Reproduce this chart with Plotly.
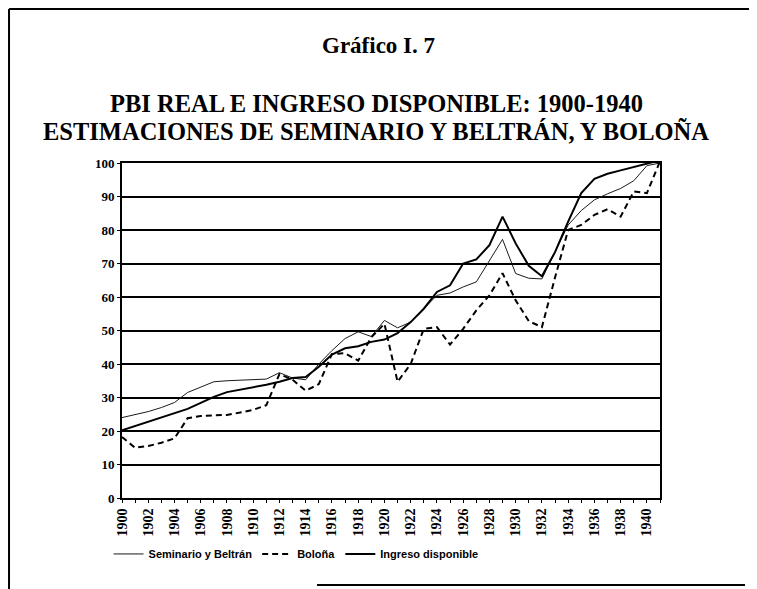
import plotly.graph_objects as go

years = list(range(1900, 1942))

seminario_beltran = [24.0, 24.9, 25.8, 27.0, 28.5, 31.5, 33.2, 34.7, 35.0, 35.2,
                     35.3, 35.5, 37.4, 35.8, 35.3, 40.0, 44.0, 47.6, 49.6, 48.2,
                     53.0, 50.8, 52.5, 56.5, 60.5, 61.2, 63.0, 64.5, 71.0, 77.2,
                     67.0, 65.6, 65.4, 73.5, 81.5, 85.8, 89.0, 90.8, 92.4, 94.7,
                     99.2, 100.0]

bolona = [18.2, 15.0, 15.5, 16.5, 17.8, 23.8, 24.5, 24.6, 24.8, 25.5,
          26.3, 27.7, 37.0, 35.3, 32.0, 34.0, 43.0, 43.2, 41.0, 48.0,
          52.0, 34.7, 40.0, 50.5, 51.0, 45.8, 50.5, 56.0, 60.5, 67.1,
          59.0, 52.8, 51.0, 65.8, 80.0, 81.5, 84.5, 86.2, 84.0, 91.5,
          91.0, 100.5]

ingreso_disponible = [20.2, 21.5, 22.7, 24.0, 25.2, 26.6, 28.4, 30.2, 31.6, 32.3,
                      33.1, 33.8, 34.7, 35.8, 36.1, 39.2, 42.8, 44.7, 45.3, 46.6,
                      47.3, 49.2, 52.5, 56.5, 61.5, 63.5, 70.0, 71.2, 75.5, 84.0,
                      76.0, 69.3, 66.2, 73.4, 82.5, 91.0, 95.3, 96.8, 97.8, 98.8,
                      100.0, 100.8]

tick_years = years
tick_labels = [str(y) if (y % 2 == 0 and y <= 1940) else "" for y in years]
y_ticks = list(range(0, 101, 10))

title_1 = "Gráfico I. 7"
title_2 = "PBI REAL E INGRESO DISPONIBLE: 1900-1940"
title_3 = "ESTIMACIONES DE SEMINARIO Y BELTRÁN, Y BOLOÑA"

SERIF = "Liberation Serif, Times New Roman, serif"
SANS = "Liberation Sans, Arial, sans-serif"

fig = go.Figure()
fig.add_trace(go.Scatter(x=years, y=seminario_beltran, mode="lines",
                         name="Seminario y Beltrán",
                         line=dict(color="#1a1a1a", width=1)))
fig.add_trace(go.Scatter(x=years, y=bolona, mode="lines", name="Boloña",
                         line=dict(color="black", width=2, dash="6px,4px")))
fig.add_trace(go.Scatter(x=years, y=ingreso_disponible, mode="lines",
                         name="Ingreso disponible",
                         line=dict(color="black", width=2)))

fig.update_layout(
    width=757, height=589,
    margin=dict(l=114, r=105, t=155, b=99),
    paper_bgcolor="white", plot_bgcolor="white",
    showlegend=True,
    legend=dict(orientation="h", x=-0.025, y=-0.167, xanchor="left", yanchor="middle",
                font=dict(family=SANS, size=11, color="black", weight="bold"),
                itemwidth=30, bgcolor="rgba(0,0,0,0)"),
    xaxis=dict(range=[1900, 1941], tickmode="array", tickvals=tick_years,
               ticktext=tick_labels, tickangle=-90, ticks="outside", ticklen=3,
               tickcolor="black", showgrid=False, zeroline=False,
               showline=True, linecolor="black", linewidth=2, mirror=True,
               tickfont=dict(family=SERIF, size=14, color="black", weight="bold")),
    yaxis=dict(range=[0, 100], tickmode="array", tickvals=y_ticks,
               ticks="outside", ticklen=3, tickcolor="black",
               showgrid=True, gridcolor="black", gridwidth=2, zeroline=False,
               showline=True, linecolor="black", linewidth=2, mirror=True,
               tickfont=dict(family=SERIF, size=13, color="black", weight="bold")),
)

fig.add_annotation(text=title_1, xref="paper", yref="paper", x=0.476, y=1.352,
                   showarrow=False, xanchor="center", yanchor="middle", borderpad=0,
                   font=dict(family=SERIF, size=23, color="black", weight="bold"))
fig.add_annotation(text=title_2, xref="paper", yref="paper", x=0.473, y=1.1791,
                   showarrow=False, xanchor="center", yanchor="middle", borderpad=0,
                   font=dict(family=SERIF, size=24.5, color="black", weight="bold"))
fig.add_annotation(text=title_3, xref="paper", yref="paper", x=0.473, y=1.0955,
                   showarrow=False, xanchor="center", yanchor="middle", borderpad=0,
                   font=dict(family=SERIF, size=24.5, color="black", weight="bold"))

# page frame (decoration)
frame = dict(color="black", width=2)
fig.add_shape(type="line", xref="paper", yref="paper", x0=-0.21, x1=1.18,
              y0=1.4597, y1=1.4597, line=frame)
fig.add_shape(type="line", xref="paper", yref="paper", x0=-0.21, x1=-0.21,
              y0=1.4597, y1=-0.2716, line=frame)
fig.add_shape(type="line", xref="paper", yref="paper", x0=0.3625, x1=1.158,
              y0=-0.2597, y1=-0.2597, line=frame)

fig.write_html("out.html")
